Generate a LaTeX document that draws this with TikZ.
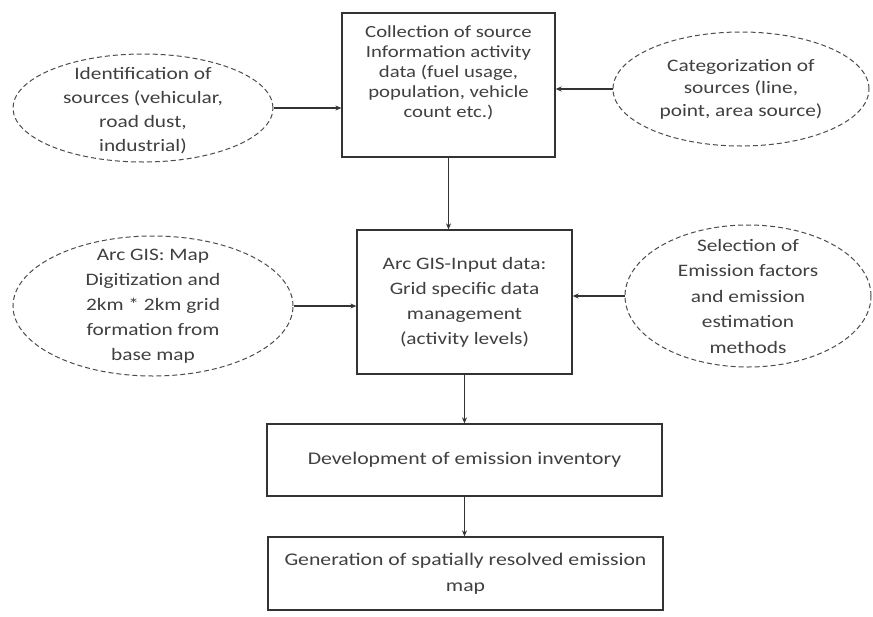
\documentclass[tikz,border=0pt]{standalone}
\usepackage{fontspec}
\setmainfont[FakeStretch=1.22]{Carlito}
\usetikzlibrary{shapes.geometric,arrows.meta}
\begin{document}
\begin{tikzpicture}[x=1pt,y=-1pt,
  boxnode/.style={draw=black!80,line width=1.3pt,rectangle,inner sep=0pt,align=center,text=black!75,
    font=\fontsize{17.8}{24}\selectfont},
  ellnode/.style={draw=black!70,line width=1pt,dash pattern=on 5pt off 3pt,ellipse,inner sep=0pt},
  elltext/.style={align=center,text=black!75,inner sep=0pt,font=\fontsize{17.5}{24}\selectfont},
  conn/.style={draw=black!80,line width=1.1pt,-{Stealth[length=6pt,width=5pt]}}]
\useasboundingbox (0,0) rectangle (873,616);
\fill[white] (0,0) rectangle (873,616);

% boxes
\node[boxnode,minimum width=213,minimum height=144] (b1) at (448.5,85) {};
\node[align=center,text=black!75,inner sep=0pt,font=\fontsize{17}{20}\selectfont] (b1t) at (448.5,73)
  {Collection of source\\Information activity\\data (fuel usage,\\population, vehicle\\count etc.)};
\node[boxnode,minimum width=215,minimum height=144,font=\fontsize{17.5}{25}\selectfont] (b2) at (464.5,302)
  {Arc GIS-Input data:\\Grid specific data\\management\\(activity levels)};
\node[boxnode,minimum width=395,minimum height=72] (b3) at (464.5,460)
  {Development of emission inventory};
\node[boxnode,minimum width=395,minimum height=73,font=\fontsize{17.8}{26}\selectfont] (b4) at (465.5,573.5)
  {Generation of spatially resolved emission\\map};

% ellipses
\node[ellnode,minimum width=260,minimum height=108] (e1) at (143,108) {};
\node[elltext] (e1t) at (143,111) {Identification of\\sources (vehicular,\\road dust,\\industrial)};
\node[ellnode,minimum width=256,minimum height=114] (e2) at (741,89) {};
\node[elltext,font=\fontsize{17.5}{22.5}\selectfont] (e2t) at (e2) {Categorization of\\sources (line,\\point, area source)};
\node[ellnode,minimum width=280,minimum height=140] (e3) at (153,306) {};
\node[elltext,font=\fontsize{17.5}{25}\selectfont] (e3t) at (e3) {Arc GIS: Map\\Digitization and\\2km * 2km grid\\formation from\\base map};
\node[ellnode,minimum width=246,minimum height=142] (e4) at (748,296) {};
\node[elltext,font=\fontsize{17.5}{25.5}\selectfont] (e4t) at (e4) {Selection of\\Emission factors\\and emission\\estimation\\methods};

% connectors
\draw[conn] (e1.east) -- (e1.east -| b1.west);
\draw[conn] (e2.west) -- (e2.west -| b1.east);
\draw[conn] (b1.south) -- (b1.south |- b2.north);
\draw[conn] (e3.east) -- (e3.east -| b2.west);
\draw[conn] (e4.west) -- (e4.west -| b2.east);
\draw[conn] (b2.south) -- (b2.south |- b3.north);
\draw[conn] (b3.south) -- (b3.south |- b4.north);
\end{tikzpicture}
\end{document}
